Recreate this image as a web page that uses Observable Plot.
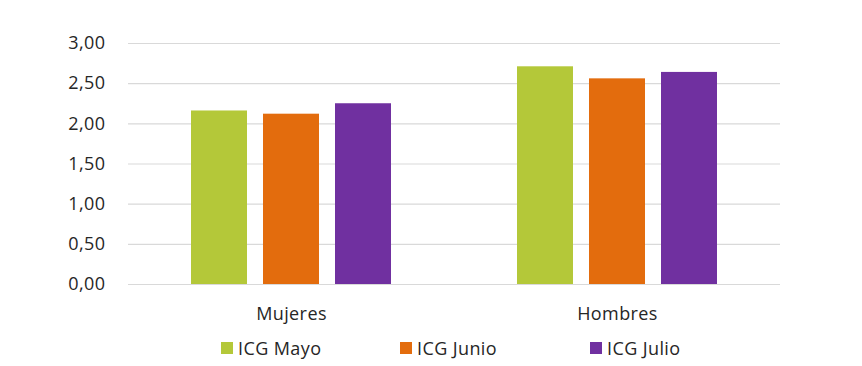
<!DOCTYPE html>
<html>
<head>
<meta charset="utf-8">
<script src="https://cdn.jsdelivr.net/npm/d3@7"></script>
<script src="https://cdn.jsdelivr.net/npm/@observablehq/plot@0.6"></script>
<style>
  html, body { margin: 0; padding: 0; background: #fff; }
  #wrap { position: relative; width: 862px; height: 366px; font-family: "Open Sans", sans-serif; }
  #legend { position: absolute; left: 0; top: 336px; width: 862px; height: 26px; font-size: 18px; letter-spacing: 0.4px; color: #262626; }
  .item { position: absolute; top: 0; display: flex; align-items: center; gap: 5px; white-space: nowrap; }
  .sw { width: 12px; height: 12px; display: inline-block; }
  svg text { letter-spacing: 0.4px; }
</style>
</head>
<body>
<div id="wrap"><div id="chart"></div><div id="legend"></div></div>
<script>
const groups = ["Mujeres", "Hombres"];
const series = ["ICG Mayo", "ICG Junio", "ICG Julio"];
const colors = ["#b4c839", "#e36c0d", "#7030a0"];
const mujeres = [2.16, 2.12, 2.25];
const hombres = [2.71, 2.56, 2.64];
const yTicks = [0, 0.5, 1, 1.5, 2, 2.5, 3];

const data = [];
groups.forEach((g, gi) => {
  const vals = gi === 0 ? mujeres : hombres;
  series.forEach((s, si) => data.push({group: g, serie: s, value: vals[si]}));
});

const fmt = d => d3.format(".2f")(d).replace(".", ",");

const chart = Plot.plot({
  width: 862,
  height: 330,
  marginTop: 43,
  marginBottom: 46,
  marginLeft: 128,
  marginRight: 82,
  style: {fontFamily: "'Open Sans', sans-serif", fontSize: "18px", color: "#262626", background: "#fff"},
  fx: {domain: groups, paddingInner: 0, paddingOuter: 0, label: null},
  x: {domain: series, paddingInner: 0.22, paddingOuter: 0.86, axis: null},
  y: {domain: [0, 3], ticks: yTicks, tickFormat: fmt, label: null},
  color: {domain: series, range: colors},
  marks: [
    Plot.gridY(yTicks, {stroke: "#d9d9d9", strokeOpacity: 1, strokeWidth: 1.2}),
    Plot.barY(data, {fx: "group", x: "serie", y: "value", fill: "serie"}),
    Plot.axisY({ticks: yTicks, tickFormat: fmt, tickSize: 0, tickPadding: 23, label: null, fontSize: 18}),
    Plot.axisFx({anchor: "bottom", tickSize: 0, tickPadding: 23, label: null, fontSize: 18})
  ]
});
document.getElementById("chart").appendChild(chart);

const legendX = [221, 400, 590];
const legend = document.getElementById("legend");
series.forEach((s, i) => {
  const it = document.createElement("div");
  it.className = "item";
  it.style.left = legendX[i] + "px";
  it.innerHTML = `<span class="sw" style="background:${colors[i]}"></span><span>${s}</span>`;
  legend.appendChild(it);
});
</script>
</body>
</html>
